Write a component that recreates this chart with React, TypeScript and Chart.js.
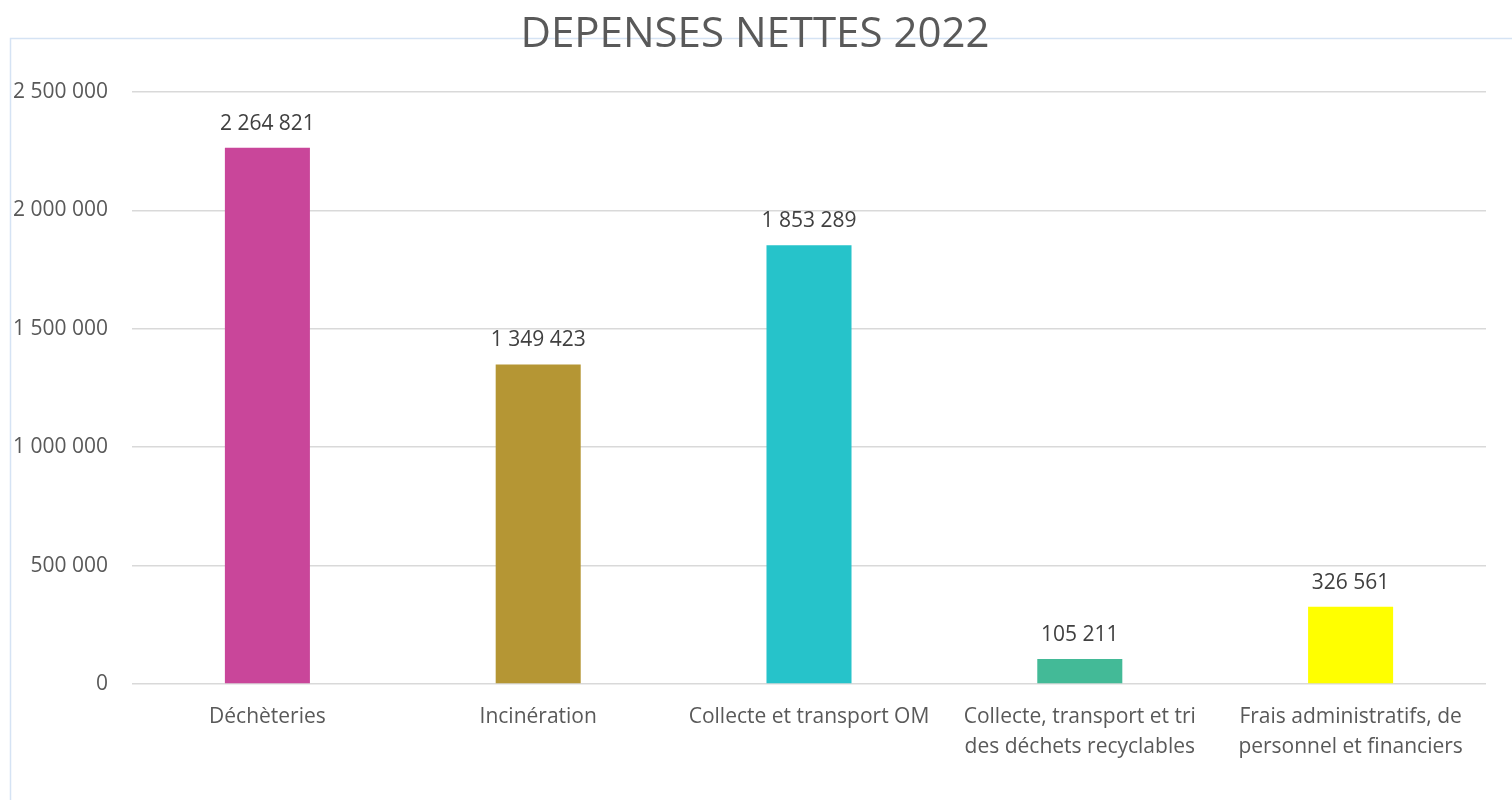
import React, { useEffect, useRef } from "react";
import { Chart, registerables } from "chart.js";

Chart.register(...registerables);

const chartTitle = "DEPENSES NETTES 2022";
const categories: (string | string[])[] = [
  "Déchèteries",
  "Incinération",
  "Collecte et transport OM",
  ["Collecte, transport et tri", "des déchets recyclables"],
  ["Frais administratifs, de", "personnel et financiers"],
];
const values = [2264821, 1349423, 1853289, 105211, 326561];
const barColors = ["#C9469A", "#B59634", "#26C3CA", "#43BA97", "#FFFF00"];
const yMin = 0;
const yMax = 2500000;
const yStep = 500000;

const FONT = "'Open Sans', sans-serif";

const fmt = (v: number) =>
  String(Math.round(v)).replace(/\B(?=(\d{3})+(?!\d))/g, " ");

const frameTitlePlugin = {
  id: "frameTitle",
  beforeDraw(chart: any) {
    const ctx = chart.ctx;
    ctx.save();
    ctx.strokeStyle = "#D5E3F4";
    ctx.lineWidth = 1.5;
    ctx.strokeRect(10.5, 38.5, chart.width + 20, chart.height + 20);
    ctx.restore();
  },
  afterDraw(chart: any) {
    const ctx = chart.ctx;
    ctx.save();
    ctx.fillStyle = "#595959";
    ctx.font = `42px ${FONT}`;
    ctx.textAlign = "center";
    ctx.textBaseline = "alphabetic";
    ctx.fillText(chartTitle, 755, 47);
    ctx.restore();
  },
};

const dataLabelPlugin = {
  id: "dataLabels",
  afterDatasetsDraw(chart: any) {
    const ctx = chart.ctx;
    const meta = chart.getDatasetMeta(0);
    ctx.save();
    ctx.fillStyle = "#404040";
    ctx.font = `21px ${FONT}`;
    ctx.textAlign = "center";
    ctx.textBaseline = "alphabetic";
    meta.data.forEach((el: any, i: number) => {
      ctx.fillText(fmt(values[i]), el.x, el.y - 18);
    });
    ctx.restore();
  },
};

export default function App() {
  const ref = useRef<HTMLCanvasElement | null>(null);
  useEffect(() => {
    if (!ref.current) return;
    const chart = new Chart(ref.current, {
      type: "bar",
      data: {
        labels: categories,
        datasets: [
          {
            data: values,
            backgroundColor: barColors,
            borderWidth: 0,
            categoryPercentage: 1,
            barPercentage: 0.314,
          },
        ],
      },
      options: {
        animation: false,
        responsive: false,
        maintainAspectRatio: false,
        layout: { padding: { left: 0, right: 26, top: 92, bottom: 0 } },
        plugins: {
          legend: { display: false },
          title: { display: false },
          tooltip: { enabled: false },
        },
        scales: {
          x: {
            grid: { display: false, drawTicks: false },
            border: { display: false },
            ticks: {
              color: "#595959",
              font: { family: FONT, size: 21, lineHeight: 1.43 },
              padding: 18,
              maxRotation: 0,
              autoSkip: false,
            },
            afterFit(scale: any) {
              scale.height = 116;
            },
          },
          y: {
            min: yMin,
            max: yMax,
            grid: { color: "#D9D9D9", lineWidth: 1.5, drawTicks: false },
            border: { display: false },
            ticks: {
              stepSize: yStep,
              color: "#595959",
              font: { family: FONT, size: 21 },
              padding: 24,
              callback: (v: any) => fmt(Number(v)),
            },
            afterFit(scale: any) {
              scale.width = 132;
            },
          },
        },
      },
      plugins: [frameTitlePlugin, dataLabelPlugin],
    });
    return () => chart.destroy();
  }, []);
  return (
    <div style={{ position: "fixed", left: 0, top: 0, width: 1512, height: 800, background: "#fff" }}>
      <canvas ref={ref} width={1512} height={800} style={{ width: 1512, height: 800 }} />
    </div>
  );
}
